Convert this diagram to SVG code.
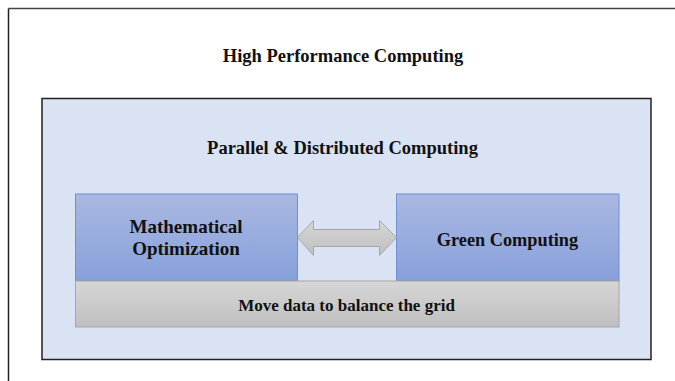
<svg xmlns="http://www.w3.org/2000/svg" width="675" height="381" viewBox="0 0 675 381">
<defs>
<linearGradient id="gBlue" x1="0" y1="0" x2="0" y2="1">
<stop offset="0" stop-color="#aab8e1"/>
<stop offset="1" stop-color="#87a0db"/>
</linearGradient>
<linearGradient id="gGray" x1="0" y1="0" x2="0" y2="1">
<stop offset="0" stop-color="#d6d6d6"/>
<stop offset="1" stop-color="#bfbfbf"/>
</linearGradient>
<style>
.t{font-family:"Liberation Serif","Times New Roman",serif;font-weight:bold;fill:#111;text-anchor:middle}
.blue{fill:url(#gBlue);stroke:#6f8fd6;stroke-width:1}
.gray{fill:url(#gGray);stroke:#a6a6a6;stroke-width:1}
</style>
</defs>
<rect width="675" height="381" fill="#ffffff"/>
<g id="frame">
<line x1="8.5" y1="8.5" x2="675" y2="8.5" stroke="#444" stroke-width="1.5"/>
<line x1="8.5" y1="8.5" x2="8.5" y2="381" stroke="#222" stroke-width="1.5"/>
<text class="t" x="343" y="61.5" font-size="18.5">High Performance Computing</text>
</g>
<g id="pdc">
<rect x="42" y="98.5" width="609" height="261" fill="#dae3f3" stroke="#222" stroke-width="1.5"/>
<text class="t" x="342.5" y="154" font-size="18.5">Parallel &amp; Distributed Computing</text>
</g>
<g id="math">
<rect class="blue" x="75.5" y="194" width="222" height="87"/>
<text class="t" x="186" y="233" font-size="19">Mathematical</text>
<text class="t" x="186" y="255" font-size="19">Optimization</text>
</g>
<g id="green">
<rect class="blue" x="396.5" y="194" width="222.5" height="87"/>
<text class="t" x="507.5" y="246" font-size="18.3">Green Computing</text>
</g>
<g id="grid">
<rect class="gray" x="75.5" y="281" width="543.5" height="46"/>
<text class="t" x="346.5" y="311" font-size="17">Move data to balance the grid</text>
</g>
<g id="connectors">
<path class="gray" d="M297.5,237.5 L313.5,220.5 L313.5,229.5 L379.5,229.5 L379.5,220.5 L396.5,237.5 L379.5,255.5 L379.5,246.5 L313.5,246.5 L313.5,255.5 Z"/>
</g>
</svg>
